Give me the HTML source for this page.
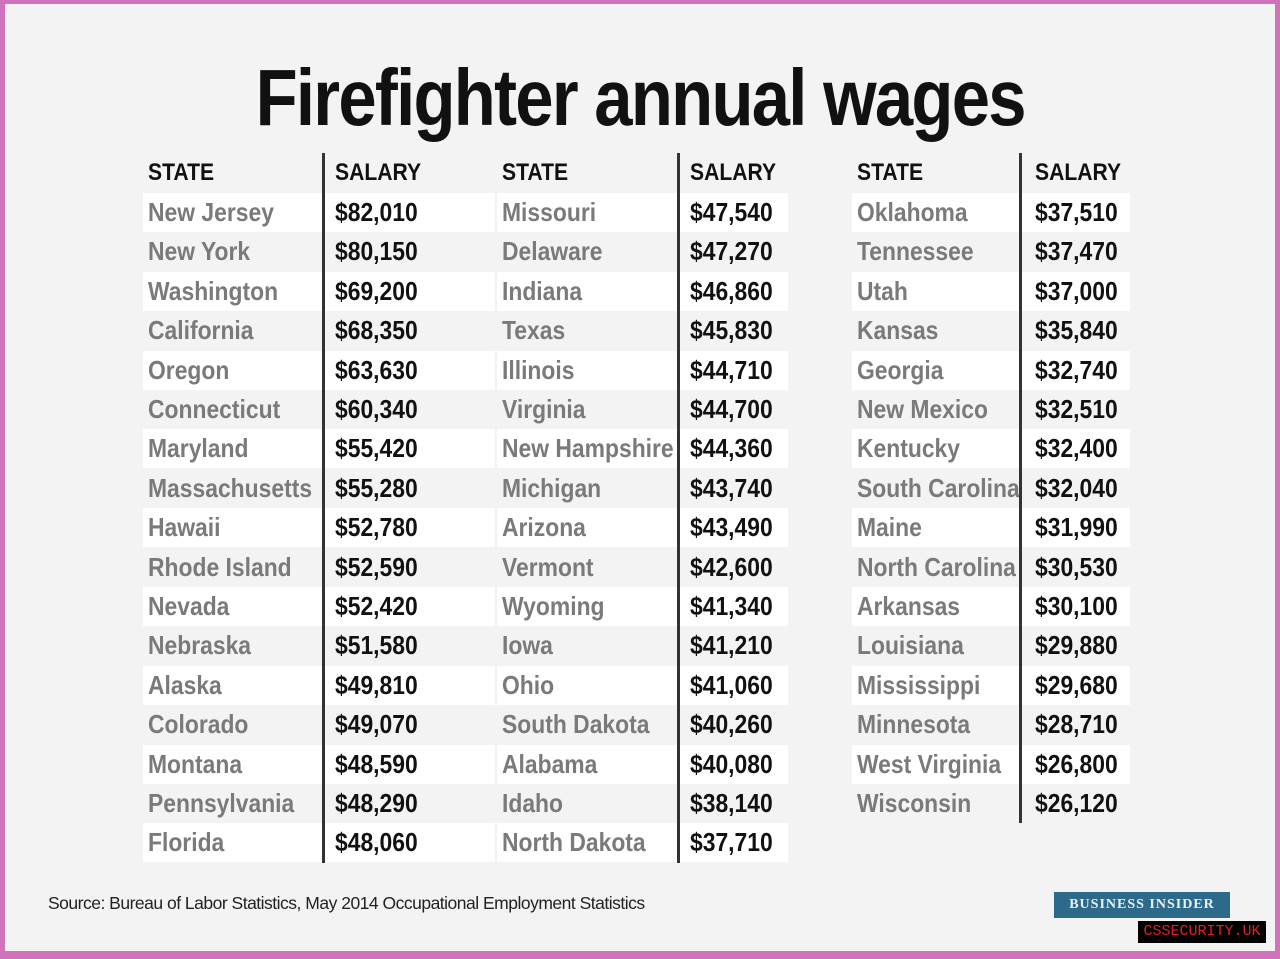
<!DOCTYPE html>
<html><head><meta charset="utf-8"><style>
body{margin:0;width:1280px;height:959px;overflow:hidden;background:#d173bb;position:relative;font-family:"Liberation Sans Narrow","Liberation Sans",sans-serif}
#bg{position:absolute;left:5px;top:4px;width:1270px;height:947px;background:#f3f3f3}
.t{position:absolute;left:0;width:1280px;top:52px;text-align:center;font:bold 80px "Liberation Sans",sans-serif;color:#111;letter-spacing:-2px}
.t span{display:inline-block;transform:scaleX(0.86);transform-origin:center}
.r{position:absolute;height:39px;background:#fff}
.c{position:absolute;font-weight:bold;font-size:26px;line-height:39px;white-space:nowrap;transform:scaleX(0.88);transform-origin:left center}
.s{color:#7a7a7a}.m{color:#111}.h{color:#111;font-size:24px}
.v{position:absolute;width:3px;background:#333;top:153px}
</style></head><body><div id="bg"></div>
<div class="t"><span>Firefighter annual wages</span></div>
<div id="tb"></div>
<div style="position:absolute;left:48px;top:893px;font:17.5px 'Liberation Sans Narrow','Liberation Sans',sans-serif;color:#222;letter-spacing:-0.5px">Source: Bureau of Labor Statistics, May 2014 Occupational Employment Statistics</div>
<div style="position:absolute;left:1054px;top:892px;width:176px;height:26px;background:#2d6a8a;color:#e8f0f5;font:bold 14px 'Liberation Serif',serif;text-align:center;line-height:26px;letter-spacing:1px">BUSINESS INSIDER</div>
<div style="position:absolute;left:1138px;top:921px;width:128px;height:22px;background:#000;color:#e02020;font:15px 'Liberation Mono',monospace;text-align:center;line-height:22px">CSSECURITY.UK</div>
<script>
var d=[[["New Jersey","$82,010"],["New York","$80,150"],["Washington","$69,200"],["California","$68,350"],["Oregon","$63,630"],["Connecticut","$60,340"],["Maryland","$55,420"],["Massachusetts","$55,280"],["Hawaii","$52,780"],["Rhode Island","$52,590"],["Nevada","$52,420"],["Nebraska","$51,580"],["Alaska","$49,810"],["Colorado","$49,070"],["Montana","$48,590"],["Pennsylvania","$48,290"],["Florida","$48,060"]],
[["Missouri","$47,540"],["Delaware","$47,270"],["Indiana","$46,860"],["Texas","$45,830"],["Illinois","$44,710"],["Virginia","$44,700"],["New Hampshire","$44,360"],["Michigan","$43,740"],["Arizona","$43,490"],["Vermont","$42,600"],["Wyoming","$41,340"],["Iowa","$41,210"],["Ohio","$41,060"],["South Dakota","$40,260"],["Alabama","$40,080"],["Idaho","$38,140"],["North Dakota","$37,710"]],
[["Oklahoma","$37,510"],["Tennessee","$37,470"],["Utah","$37,000"],["Kansas","$35,840"],["Georgia","$32,740"],["New Mexico","$32,510"],["Kentucky","$32,400"],["South Carolina","$32,040"],["Maine","$31,990"],["North Carolina","$30,530"],["Arkansas","$30,100"],["Louisiana","$29,880"],["Mississippi","$29,680"],["Minnesota","$28,710"],["West Virginia","$26,800"],["Wisconsin","$26,120"]]];
var cols=[[143,148,323,335,495],[497,502,678,690,788],[852,857,1020,1035,1130]];
var h="";
cols.forEach(function(c,ci){
 var n=d[ci].length;
 h+='<div class="c h" style="left:'+c[1]+'px;top:153px">STATE</div><div class="c h" style="left:'+c[3]+'px;top:153px">SALARY</div>';
 d[ci].forEach(function(r,i){var y=193+39.4*i;
  if(i%2==0)h+='<div class="r" style="left:'+c[0]+'px;top:'+y+'px;width:'+(c[4]-c[0])+'px"></div>';
  h+='<div class="c s" style="left:'+c[1]+'px;top:'+y+'px">'+r[0]+'</div><div class="c m" style="left:'+c[3]+'px;top:'+y+'px">'+r[1]+'</div>';});
 h+='<div class="v" style="left:'+(c[2]-1)+'px;height:'+(40+39.4*n)+'px"></div>';
});
document.getElementById("tb").innerHTML=h;
</script>
</body></html>
